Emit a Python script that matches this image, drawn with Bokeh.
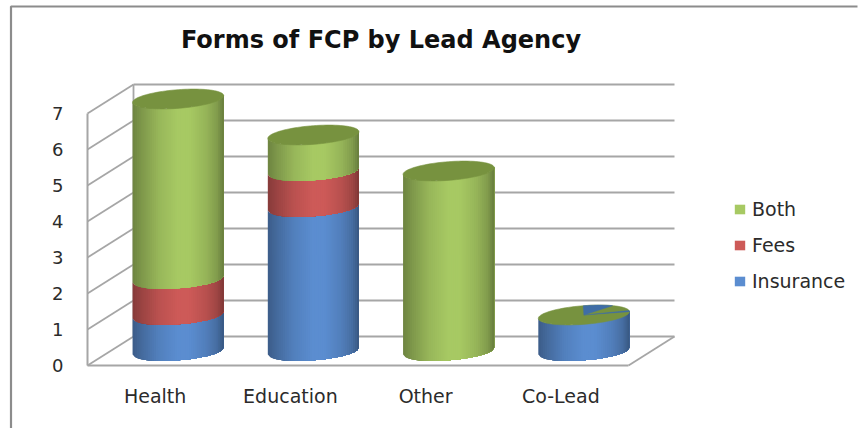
import numpy as np
from bokeh.plotting import figure
from bokeh.models import (ColumnDataSource, Range1d, LinearAxis, FixedTicker, Legend,
                          LegendItem, Label)
from bokeh.embed import file_html
from bokeh.resources import INLINE

# ---- data
title_text = "Forms of FCP by Lead Agency"
categories = ["Health", "Education", "Other", "Co-Lead"]
insurance = [1, 4, 0, 1]
fees = [1, 1, 0, 0]
both = [5, 1, 5, 0]
y_ticks = [0, 1, 2, 3, 4, 5, 6, 7]
series_names = ["Insurance", "Fees", "Both"]
series_values = [insurance, fees, both]
series_colors = ["#5B8DD0", "#CD5A58", "#A7C963"]
cap_colors = ["#4A76AE", "#A84A48", "#77923F"]

# ---- layout (pixels of the 858x428 picture)
W, H = 858, 428
PX_X, PX_Y = 135.25, 36.0       # pixels per category / per unit
LEFT, BASE = 87.0, 365.0        # front corner of the floor
DX_PX, DY_PX = 46.0, 29.0       # depth of the box
A_PX, B_PX, TILT = 45.7, 9.3, np.radians(4.4)   # cylinder cap ellipse
GRID = "#A6A6A6"
BORDER = "#8C8C8C"
TEXT = "#2B2B2B"
FONT = "DejaVu Sans"


def x_of(px):
    return (px - LEFT) / PX_X - 0.5


def y_of(px):
    return (BASE - px) / PX_Y


dx_d, dy_d = DX_PX / PX_X, DY_PX / PX_Y
x_lo, x_hi = -0.5, len(categories) - 0.5
top_val = y_ticks[-1]

p = figure(width=W, height=H, output_backend="svg", toolbar_location=None,
           x_range=Range1d(x_of(0), x_of(W)), y_range=Range1d(y_of(H), y_of(0)),
           min_border=0, min_border_left=0, min_border_right=0, min_border_top=0,
           min_border_bottom=0, x_axis_type=None, y_axis_type=None,
           outline_line_color=None, background_fill_color="white",
           border_fill_color="white", margin=0)
p.grid.visible = False

# outer chart border
p.line([x_of(10.5), x_of(10.5), x_of(857)], [y_of(428), y_of(6), y_of(6)],
       line_color=BORDER, line_width=2.2)

# back wall grid, side wall lines, floor
for v in y_ticks:
    p.line([x_lo + dx_d, x_hi + dx_d], [v + dy_d, v + dy_d], line_color=GRID, line_width=1.8)
    p.line([x_lo, x_lo + dx_d], [v, v + dy_d], line_color=GRID, line_width=1.8)
p.line([x_lo + dx_d, x_lo + dx_d], [dy_d, top_val + dy_d], line_color=GRID, line_width=1.8)
p.line([x_hi, x_hi + dx_d], [0, dy_d], line_color=GRID, line_width=1.8)

# cylinders
prof_u = [0, .10, .28, .48, .62, .80, .92, 1]
prof_f = [.66, .76, .91, 1, 1, .90, .78, .62]


def shade(col, f):
    r, g, b = int(col[1:3], 16), int(col[3:5], 16), int(col[5:7], 16)
    return "#%02x%02x%02x" % (int(r * f), int(g * f), int(b * f))


def ell(cx_i, level, t):
    dx = A_PX * np.cos(t) * np.cos(TILT) - B_PX * np.sin(t) * np.sin(TILT)
    dy = A_PX * np.cos(t) * np.sin(TILT) + B_PX * np.sin(t) * np.cos(TILT)
    return cx_i + dx_d / 2 + dx / PX_X, level + dy_d / 2 + dy / PX_Y


sx, sy, sc = [], [], []
capx, capy, capc = [], [], []
N = 44
us = np.linspace(0, 1, N + 1)
ts = 2 * np.pi - np.arccos(2 * us - 1)
for i in range(len(categories)):
    level = 0
    top_color = None
    for k, vals in enumerate(series_values):
        v = vals[i]
        if v == 0:
            continue
        for j in range(N):
            # each strip runs to the right edge and the next one paints over it: no seams
            xa, ya = ell(i, level, ts[j:])
            xb, yb = ell(i, level + v, ts[j:])
            sx.append(list(xa) + list(xb[::-1]))
            sy.append(list(ya) + list(yb[::-1]))
            sc.append(shade(series_colors[k], np.interp((us[j] + us[j + 1]) / 2, prof_u, prof_f)))
        level += v
        top_color = cap_colors[k]
    tt = np.linspace(0, 2 * np.pi, 90)
    cx_, cy_ = ell(i, level, tt)
    capx.append(list(cx_))
    capy.append(list(cy_))
    # a stack whose top series is empty shows the green cap of the empty "Both"
    capc.append(cap_colors[2] if both[i] == 0 else top_color)

p.patches("x", "y", source=ColumnDataSource(dict(x=sx, y=sy, c=sc)),
          fill_color="c", line_color=None)
p.patches("x", "y", source=ColumnDataSource(dict(x=capx, y=capy, c=capc)),
          fill_color="c", line_color="c", line_width=0.6)

# the blue slivers visible on the Co-Lead cap
co = categories.index("Co-Lead")
co_level = sum(s[co] for s in series_values)
wx, wy = [], []
for a0, a1 in [(90, 50), (6, -1)]:
    t = np.radians(np.linspace(a0, a1, 16))
    ex, ey = ell(co, co_level, t)
    cx0 = co + dx_d / 2
    cy0 = co_level + dy_d / 2
    wx.append([cx0] + list(ex))
    wy.append([cy0] + list(ey))
p.patches(wx, wy, fill_color="#3F6DA6", line_color="#3F6DA6", line_width=0.4)

# axes
yax = LinearAxis(fixed_location=x_lo, ticker=FixedTicker(ticks=y_ticks), bounds=(0, top_val),
                 axis_line_color=GRID, axis_line_width=2,
                 major_tick_line_color=None, minor_tick_line_color=None,
                 major_label_standoff=18, major_label_text_font=FONT,
                 major_label_text_font_size="18px", major_label_text_color=TEXT)
p.add_layout(yax, "left")
xax = LinearAxis(fixed_location=0, ticker=FixedTicker(ticks=list(range(len(categories)))),
                 bounds=(x_lo, x_hi), axis_line_color=GRID, axis_line_width=2,
                 major_tick_line_color=None, minor_tick_line_color=None,
                 major_label_overrides={i: c for i, c in enumerate(categories)},
                 major_label_standoff=13, major_label_text_font=FONT,
                 major_label_text_font_size="19px", major_label_text_color=TEXT)
p.add_layout(xax, "below")

# title
p.add_layout(Label(x=x_of(380.5), y=y_of(39), text=title_text, text_align="center",
                   text_baseline="middle", text_font=FONT, text_font_style="bold",
                   text_font_size="24px", text_color="#111111"))

# legend
items = []
for name in ["Both", "Fees", "Insurance"]:
    k = series_names.index(name)
    nan = float("nan")
    r = p.quad(left=[nan], right=[nan], top=[nan], bottom=[nan],
               fill_color=series_colors[k], line_color=None)
    items.append(LegendItem(label=name, renderers=[r]))
leg = Legend(items=items, location=(733, H - 292), orientation="vertical", glyph_width=13,
             glyph_height=12, label_standoff=6, spacing=14, padding=0, margin=0,
             background_fill_alpha=0, border_line_color=None, label_text_font=FONT,
             label_text_font_size="19px", label_text_color=TEXT)
p.add_layout(leg)

open("out.html", "w").write(file_html(p, INLINE))
